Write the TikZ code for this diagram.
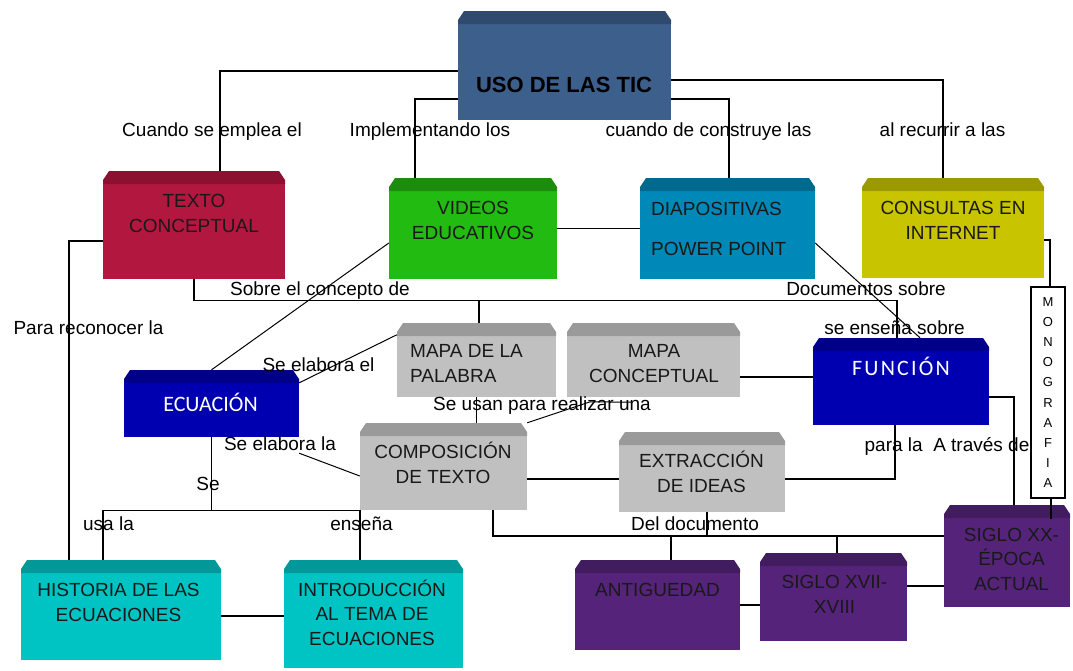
\documentclass[tikz,border=0pt]{standalone}
\usepackage{fontspec}
\setmainfont{Liberation Sans}
\newfontfamily\calibri{Carlito}
\newfontfamily\calibriancho{Carlito}[LetterSpace=10]

\definecolor{ticfill}{HTML}{3D5F8C}
\definecolor{ticband}{HTML}{2F4A6D}
\definecolor{rojo}{HTML}{B2173F}
\definecolor{rojoband}{HTML}{8C1131}
\definecolor{verde}{HTML}{22BB12}
\definecolor{verdeband}{HTML}{1D8B0E}
\definecolor{celeste}{HTML}{0088B8}
\definecolor{celesteband}{HTML}{006A8E}
\definecolor{oliva}{HTML}{C8C400}
\definecolor{olivaband}{HTML}{9C9800}
\definecolor{gris}{HTML}{C0C0C0}
\definecolor{grisband}{HTML}{9A9A9A}
\definecolor{azul}{HTML}{0000B0}
\definecolor{azulband}{HTML}{000088}
\definecolor{cian}{HTML}{00C4C4}
\definecolor{cianband}{HTML}{009898}
\definecolor{morado}{HTML}{55237A}
\definecolor{moradoband}{HTML}{411C5E}

\begin{document}
\begin{tikzpicture}[x=1pt,y=-1pt,
	caja/.style 2 args={rectangle, inner sep=0pt, draw=none, fill=white,
		path picture={
			\fill[#1] ([yshift=-13pt]path picture bounding box.north west) rectangle (path picture bounding box.south east);
			\fill[#2] ([yshift=-13pt]path picture bounding box.north west)
			-- ([yshift=-9pt]path picture bounding box.north west)
			-- ([xshift=6pt]path picture bounding box.north west)
			-- ([xshift=-6pt]path picture bounding box.north east)
			-- ([yshift=-9pt]path picture bounding box.north east)
			-- ([yshift=-13pt]path picture bounding box.north east) -- cycle;
		}},
	txt/.style={font=\fontsize{19}{24.5}\selectfont, align=center, inner sep=0pt, anchor=base, text=black!90},
	lbl/.style={font=\fontsize{19}{23}\selectfont, inner sep=0pt, anchor=base},
	grueso/.style={line width=2.6pt},
	fino/.style={line width=1.3pt},
	diag/.style={line width=1pt}]
\useasboundingbox (0,0) rectangle (1073,670);

%----------------------------
% Boxes
%----------------------------
\node[caja={ticfill}{ticband}, minimum width=213pt, minimum height=109pt] (tic) at (564.5,65.5) {};
\node[caja={rojo}{rojoband}, minimum width=182pt, minimum height=108pt] (texto) at (194,225) {};
\node[caja={verde}{verdeband}, minimum width=168pt, minimum height=101pt] (videos) at (473,228.5) {};
\node[caja={celeste}{celesteband}, minimum width=175pt, minimum height=101pt] (diapos) at (727.5,228.5) {};
\node[caja={oliva}{olivaband}, minimum width=182pt, minimum height=100pt] (consultas) at (953,228) {};
\node[caja={gris}{grisband}, minimum width=159pt, minimum height=74pt] (palabra) at (476.5,360) {};
\node[caja={gris}{grisband}, minimum width=173pt, minimum height=74pt] (concepto) at (653.5,360) {};
\node[caja={azul}{azulband}, minimum width=175pt, minimum height=67pt] (ecuacion) at (211.5,403.5) {};
\node[caja={azul}{azulband}, minimum width=176pt, minimum height=87pt] (funcion) at (901,381.5) {};
\node[caja={gris}{grisband}, minimum width=167pt, minimum height=87pt] (composicion) at (443.5,466.5) {};
\node[caja={gris}{grisband}, minimum width=166pt, minimum height=80pt] (extraccion) at (702,472) {};
\node[caja={cian}{cianband}, minimum width=200pt, minimum height=100pt] (historia) at (121,610) {};
\node[caja={cian}{cianband}, minimum width=179pt, minimum height=108pt] (intro) at (373.5,614) {};
\node[caja={morado}{moradoband}, minimum width=165pt, minimum height=90pt] (antiguedad) at (657.5,605) {};
\node[caja={morado}{moradoband}, minimum width=147pt, minimum height=88pt] (xvii) at (833.5,597) {};
\node[caja={morado}{moradoband}, minimum width=126pt, minimum height=102pt] (xx) at (1007,556) {};

% Monografia (vertical)
\node[draw, line width=1.2pt, fill=white, minimum width=34pt, minimum height=211pt, inner sep=0pt,
	align=center, font=\fontsize{13}{20.2}\selectfont] (monografia) at (1048,392.5)
	{M\\O\\N\\O\\G\\R\\A\\F\\I\\A};

%----------------------------
% Box texts (base = last line)
%----------------------------
\node[txt, font=\fontsize{22}{26}\selectfont\bfseries, text=black] (tic-t) at (564,92) {USO DE LAS TIC};
\node[txt] (texto-t) at (194,232) {TEXTO\\CONCEPTUAL};
\node[txt] (videos-t) at (473,239) {VIDEOS\\EDUCATIVOS};
\node[txt, align=left, anchor=base west] (diapos-t) at (651,255) {DIAPOSITIVAS\\[15.5pt]POWER POINT};
\node[txt] (consultas-t) at (953,239) {CONSULTAS EN\\INTERNET};
\node[txt, align=left, anchor=base west] (palabra-t) at (410,382) {MAPA DE LA\\PALABRA};
\node[txt] (concepto-t) at (654,382) {MAPA\\CONCEPTUAL};
\node[txt, font=\calibri\fontsize{22}{26}\selectfont, text=white] (ecuacion-t) at (210.5,411) {ECUACIÓN};
\node[txt, font=\calibriancho\fontsize{22}{26}\selectfont, text=white] (funcion-t) at (901,375) {FUNCIÓN};
\node[txt] (composicion-t) at (443,483) {COMPOSICIÓN\\DE TEXTO};
\node[txt] (extraccion-t) at (701.5,492) {EXTRACCIÓN\\DE IDEAS};
\node[txt] (historia-t) at (118.5,621) {HISTORIA DE LAS\\ECUACIONES};
\node[txt] (intro-t) at (372,645) {INTRODUCCIÓN\\AL TEMA DE\\ECUACIONES};
\node[txt] (antiguedad-t) at (657.5,596) {ANTIGUEDAD};
\node[txt] (xvii-t) at (834.5,613) {SIGLO XVII-\\XVIII};
\node[txt] (xx-t) at (1011.5,590) {SIGLO XX-\\ÉPOCA\\ACTUAL};

%----------------------------
% Thick connectors
%----------------------------
\draw[grueso] ([yshift=-5.5pt]tic.west) -| ([xshift=26pt]texto.north);
\draw[grueso] ([yshift=-33.5pt]tic.west) -| ([xshift=-58pt]videos.north);
\draw[grueso] ([yshift=-14.5pt]tic.east) -| ([xshift=-10pt]consultas.north);
\draw[grueso] ([yshift=-33.5pt]tic.east) -| ([xshift=1.5pt]diapos.north);
\draw[grueso] ([yshift=-16pt]texto.west) -| ([xshift=-52pt]historia.north);
\draw[grueso] ([yshift=-12pt]consultas.east) -| ([xshift=2pt]monografia.north);
\draw[grueso] ([xshift=3pt]monografia.south) -- ++(0,20);
\draw[grueso] ([yshift=-6pt]historia.east) coordinate (h1) -- (h1 -| intro.west);
\draw[grueso] (antiguedad.east) -- (antiguedad.east -| xvii.west);
\draw[grueso] ([yshift=11pt]xvii.east) coordinate (x1) -- (x1 -| xx.west);

%----------------------------
% Thin connectors
%----------------------------
\draw[fino] (videos.east) -- (videos.east -| diapos.west);
\draw[diag] ([yshift=-14.5pt]diapos.east) -- ([xshift=19pt]funcion.north);
\draw[diag] ([yshift=-14.5pt]videos.west) -- (ecuacion.north);

% texto conceptual -> mapa de la palabra, funcion
\draw[fino] (texto.south) -- ++(0,21) coordinate (t1) -| ([xshift=-4pt]funcion.north);
\coordinate (p1) at ([xshift=2.5pt]palabra.north);
\draw[fino] (t1 -| p1) -- (p1);

\draw[diag] ([yshift=-13pt]ecuacion.north east) -- ([yshift=-12pt]palabra.north west);
\draw[fino] (palabra.south) -- (palabra.south |- composicion.north);
\coordinate (q1) at ([xshift=-21.5pt,yshift=-5pt]concepto.south);
\draw[diag] (composicion.north east) -- ++(63,-21) -- (q1);
\draw[fino] ([yshift=-17pt]concepto.east) coordinate (c1) -- (c1 -| funcion.west);
\draw[diag] ([yshift=-16pt]ecuacion.south east) -- ([yshift=-9.5pt]composicion.west);

% ecuacion -> historia, introduccion
\draw[fino] (ecuacion.south) -- ++(0,73) coordinate (e1);
\coordinate (h2) at ([xshift=-18pt]historia.north);
\coordinate (i2) at ([xshift=-13.5pt]intro.north);
\draw[fino] (h2) -- (h2 |- e1) -- (i2 |- e1) -- (i2);

\draw[fino] ([yshift=-12.5pt]composicion.east) coordinate (c2) -- (c2 -| extraccion.west);
\draw[fino] ([yshift=-7pt]extraccion.east) -| ([xshift=-6pt]funcion.south);
\draw[fino] ([yshift=-15.5pt]funcion.east) -| ([xshift=7pt]xx.north);

% composicion -> epocas
\coordinate (d1) at ([yshift=20pt]xx.west);
\draw[fino] ([xshift=49.5pt]composicion.south) |- (d1);
\coordinate (a2) at ([xshift=13.5pt]antiguedad.north);
\coordinate (s2) at ([xshift=3.5pt]xvii.north);
\coordinate (e3) at ([xshift=5pt]extraccion.south);
\draw[fino] (a2 |- d1) -- (a2);
\draw[fino] (s2 |- d1) -- (s2);
\draw[fino] (e3) -- (e3 |- d1);

%----------------------------
% Connector labels
%----------------------------
\node[lbl] (l-cuando) at (212,136) {Cuando se emplea el};
\node[lbl] (l-implementando) at (430,136) {Implementando los};
\node[lbl] (l-construye) at (708.5,136) {cuando de construye las};
\node[lbl] (l-recurrir) at (942.5,136) {al recurrir a las};
\node[lbl] (l-sobre) at (320,295) {Sobre el concepto de};
\node[lbl] (l-documentos) at (866,295) {Documentos sobre};
\node[lbl] (l-reconocer) at (88.5,334) {Para reconocer la};
\node[lbl] (l-ensena) at (894.5,334) {se enseña sobre};
\node[lbl] (l-elabora1) at (318.5,371) {Se elabora el};
\node[lbl] (l-usan) at (542,410) {Se usan para realizar una};
\node[lbl] (l-elabora2) at (280,450) {Se elabora la};
\node[lbl] (l-atraves) at (947,451) {para la\ \ A través de};
\node[lbl] (l-se) at (208,490) {Se};
\node[lbl] (l-usa) at (108.5,530) {usa la};
\node[lbl] (l-ensena2) at (361.5,530) {enseña};
\node[lbl] (l-documento) at (695,530) {Del documento};

\end{tikzpicture}
\end{document}
